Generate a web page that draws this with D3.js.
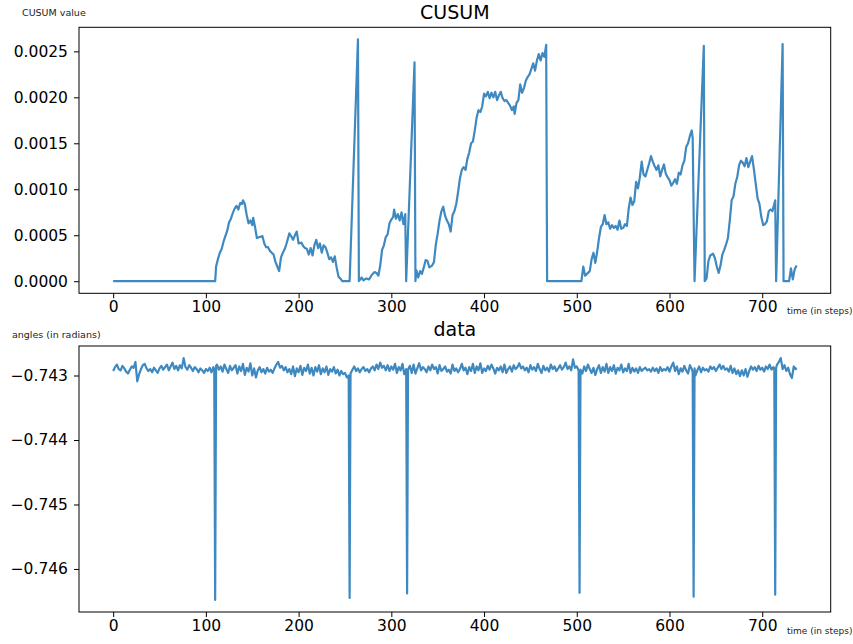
<!DOCTYPE html>
<html><head><meta charset="utf-8">
<script src="https://cdn.jsdelivr.net/npm/d3@7"></script>
<style>
html,body{margin:0;padding:0;background:#fff;}
svg{display:block;font-family:"DejaVu Sans",sans-serif;}
</style></head>
<body><svg id="c" width="853" height="644"></svg>
<script>
// ---------- DATA ----------
const xTicks = [0,100,200,300,400,500,600,700];
const cusumTicks = [0.0000,0.0005,0.0010,0.0015,0.0020,0.0025];
const dataTicks = [-0.743,-0.744,-0.745,-0.746];

const cusumSteps = [0,110,111,113,115,117,119,121,123,125,127,129,131,133,135,137,139,140,142,144,146,148,150,151,153,155,158,161,163,165,167,169,171,173,175,177,179,181,183,185,187,190,192,194,196,198,200,203,205,207,209,211,213,215,217,219,221,223,225,227,229,231,233,235,237,239,241,243,245,247,255,264,265,268,270,273,276,279,282,284,286,288,290,292,294,296,298,300,302,303,305,307,309,311,313,315,316,325,326,327,329,331,333,335,337,339,341,344,346,348,350,352,354,356,358,360,362,364,366,368,370,372,374,376,378,380,382,384,386,388,390,392,394,396,398,400,402,404,406,408,410,412,414,416,418,420,422,424,426,428,430,432,433,435,437,439,441,443,445,447,449,451,453,455,457,459,461,463,465,467,468,505,507,509,511,514,516,518,520,522,524,526,528,530,532,534,536,538,540,542,544,546,548,550,552,554,556,558,560,562,564,566,568,570,572,574,576,578,580,582,584,586,588,590,592,594,596,598,600,602,604,606,608,610,612,614,616,618,620,622,624,625,627,637,638,640,642,644,647,649,651,653,655,657,659,661,663,665,667,669,671,673,675,677,679,681,683,685,687,689,691,693,695,697,699,701,703,705,707,709,711,713,714,715,722,723,729,731,733,735,737];
const cusumValues = [0,0,0.00016,0.00024,0.00031,0.00035,0.00043,0.00049,0.00055,0.00064,0.00068,0.00074,0.00079,0.00082,0.00078,0.00085,0.00084,0.00088,0.00084,0.00072,0.00063,0.00066,0.00061,0.00069,0.00059,0.00047,0.00048,0.00049,0.00041,0.00037,0.00037,0.00033,0.00031,0.00029,0.00021,0.00016,0.00011,0.00026,0.00031,0.00035,0.00041,0.00052,0.00049,0.00045,0.00050,0.00054,0.00041,0.00042,0.00038,0.00036,0.00035,0.00029,0.00036,0.00028,0.00039,0.00045,0.00036,0.00041,0.00031,0.00039,0.00037,0.00031,0.00024,0.00026,0.00021,0.00027,0.00015,0.00005,0.00003,0,0,0.00263,0,0.00004,0.00001,0.00003,0.00002,0.00007,0.00010,0.00009,0.00006,0.00017,0.00034,0.00039,0.00048,0.00051,0.00063,0.00067,0.00070,0.00078,0.00068,0.00073,0.00066,0.00075,0.00062,0.00073,0,0.00238,0,0.00012,0.00004,0.00011,0.00008,0.00015,0.00023,0.00022,0.00015,0.00017,0.00021,0.00040,0.00052,0.00066,0.00076,0.00081,0.00071,0.00066,0.00062,0.00054,0.00072,0.00076,0.00084,0.00097,0.00112,0.00121,0.00124,0.00121,0.00133,0.00140,0.00150,0.00152,0.00164,0.00178,0.00186,0.00184,0.00190,0.00204,0.00201,0.00206,0.00199,0.00205,0.00200,0.00206,0.00197,0.00202,0.00206,0.00199,0.00196,0.00197,0.00194,0.00191,0.00186,0.00190,0.00182,0.00194,0.00197,0.00214,0.00205,0.00210,0.00218,0.00222,0.00225,0.00231,0.00237,0.00229,0.00240,0.00247,0.00240,0.00248,0.00244,0.00257,0,0,0.00016,0.00006,0.00008,0.00011,0.00024,0.00031,0.00020,0.00032,0.00047,0.00059,0.00062,0.00072,0.00062,0.00064,0.00057,0.00061,0.00058,0.00060,0.00056,0.00066,0.00057,0.00058,0.00062,0.00060,0.00079,0.00091,0.00083,0.00087,0.00108,0.00101,0.00113,0.00130,0.00116,0.00114,0.00121,0.00128,0.00136,0.00130,0.00125,0.00121,0.00126,0.00114,0.00121,0.00127,0.00117,0.00113,0.00110,0.00104,0.00107,0.00111,0.00106,0.00118,0.00116,0.00126,0.00131,0.00146,0.00150,0.00158,0.00164,0.00156,0,0.00256,0,0.00003,0.00022,0.00028,0.00030,0.00025,0.00016,0.00009,0.00017,0.00029,0.00034,0.00040,0.00047,0.00066,0.00088,0.00092,0.00106,0.00113,0.00126,0.00131,0.00129,0.00125,0.00134,0.00124,0.00130,0.00136,0.00122,0.00106,0.00090,0.00084,0.00070,0.00061,0.00062,0.00065,0.00076,0.00078,0.00076,0.00084,0.00088,0,0.00258,0,0,0.00014,0.00002,0.00013,0.00017];

const dataSteps = [0,2,4,6,8,10,12,14,16,18,20,22,24,26,28,30,32,34,36,38,40,42,44,46,48,50,52,54,56,58,60,62,64,66,68,70,72,74,76,78,80,82,84,86,88,90,92,94,96,98,100,102,104,106,108,109,110,111,112,
114,116,118,120,122,124,126,128,130,132,134,136,138,140,142,144,146,148,150,152,154,156,158,160,162,164,166,168,170,172,174,176,178,180,182,184,186,188,190,192,194,196,198,200,202,204,206,208,210,212,214,216,218,220,222,224,226,228,230,232,234,236,238,240,242,244,246,248,250,252,254,255,256,
258,260,262,264,266,268,270,272,274,276,278,280,282,284,286,288,290,292,294,296,298,300,302,304,306,308,310,312,314,316,317,318,
320,322,324,326,328,330,332,334,336,338,340,342,344,346,348,350,352,354,356,358,360,362,364,366,368,370,372,374,376,378,380,382,384,386,388,390,392,394,396,398,400,402,404,406,408,410,412,414,416,418,420,422,424,426,428,430,432,434,436,438,440,442,444,446,448,450,452,454,456,458,460,462,464,466,468,470,472,474,476,478,480,482,484,486,488,490,492,494,496,498,500,502,503,504,
506,508,510,512,514,516,518,520,522,524,526,528,530,532,534,536,538,540,542,544,546,548,550,552,554,556,558,560,562,564,566,568,570,572,574,576,578,580,582,584,586,588,590,592,594,596,598,600,602,604,606,608,610,612,614,616,618,620,622,624,625,626,627,628,
630,632,634,636,638,640,642,644,646,648,650,652,654,656,658,660,662,664,666,668,670,672,674,676,678,680,682,684,686,688,690,692,694,696,698,700,702,704,706,708,710,712,713,714,715,716,
718,720,722,724,726,728,730,732,734,736,737];
const dataAngles = [-0.74293,-0.74287,-0.74283,-0.74290,-0.74292,-0.74285,-0.74289,-0.74294,-0.74297,-0.74291,
-0.74286,-0.74288,-0.74279,-0.74309,-0.74298,-0.74290,-0.74284,-0.74282,-0.74289,-0.74293,
-0.74290,-0.74295,-0.74288,-0.74292,-0.74296,-0.74289,-0.74285,-0.74291,-0.74287,-0.74283,
-0.74292,-0.74286,-0.74280,-0.74290,-0.74285,-0.74292,-0.74284,-0.74289,-0.74273,-0.74287,
-0.74291,-0.74284,-0.74288,-0.74293,-0.74287,-0.74290,-0.74295,-0.74289,-0.74292,-0.74296,
-0.74290,-0.74293,-0.74288,-0.74295,-0.74287,-0.74290,-0.74648,-0.74285,-0.74283,
-0.74291,-0.74286,-0.74294,-0.74283,-0.74290,-0.74296,-0.74285,-0.74292,-0.74288,-0.74284,
-0.74297,-0.74286,-0.74293,-0.74282,-0.74299,-0.74288,-0.74294,-0.74281,-0.74300,-0.74289,
-0.74303,-0.74292,-0.74287,-0.74295,-0.74290,-0.74297,-0.74288,-0.74294,-0.74291,-0.74296,
-0.74289,-0.74283,-0.74279,-0.74288,-0.74285,-0.74292,-0.74287,-0.74295,-0.74290,-0.74298,
-0.74286,-0.74301,-0.74289,-0.74295,-0.74285,-0.74299,-0.74288,-0.74293,-0.74283,-0.74297,
-0.74288,-0.74300,-0.74287,-0.74294,-0.74284,-0.74298,-0.74289,-0.74295,-0.74286,-0.74299,
-0.74290,-0.74294,-0.74287,-0.74297,-0.74291,-0.74300,-0.74293,-0.74298,-0.74296,-0.74303,
-0.74300,-0.74645,-0.74297,
-0.74291,-0.74286,-0.74293,-0.74289,-0.74295,-0.74290,-0.74287,-0.74293,-0.74290,-0.74295,
-0.74289,-0.74286,-0.74292,-0.74283,-0.74290,-0.74280,-0.74288,-0.74285,-0.74292,-0.74284,
-0.74293,-0.74286,-0.74291,-0.74282,-0.74296,-0.74287,-0.74292,-0.74282,-0.74298,
-0.74290,-0.74638,-0.74291,
-0.74285,-0.74296,-0.74283,-0.74297,-0.74289,-0.74281,-0.74292,-0.74287,-0.74290,-0.74295,
-0.74286,-0.74292,-0.74283,-0.74290,-0.74287,-0.74297,-0.74284,-0.74293,-0.74290,-0.74286,
-0.74294,-0.74291,-0.74297,-0.74283,-0.74293,-0.74289,-0.74295,-0.74290,-0.74282,-0.74292,
-0.74288,-0.74298,-0.74287,-0.74293,-0.74282,-0.74296,-0.74286,-0.74292,-0.74281,-0.74296,
-0.74289,-0.74293,-0.74285,-0.74291,-0.74283,-0.74289,-0.74297,-0.74288,-0.74292,-0.74286,
-0.74295,-0.74283,-0.74296,-0.74290,-0.74286,-0.74294,-0.74284,-0.74290,-0.74287,-0.74281,
-0.74289,-0.74286,-0.74292,-0.74288,-0.74295,-0.74284,-0.74291,-0.74287,-0.74293,-0.74282,
-0.74290,-0.74296,-0.74285,-0.74292,-0.74288,-0.74294,-0.74283,-0.74290,-0.74286,-0.74293,
-0.74289,-0.74284,-0.74291,-0.74287,-0.74280,-0.74290,-0.74286,-0.74292,-0.74275,-0.74288,
-0.74286,-0.74292,-0.74637,-0.74291,
-0.74297,-0.74286,-0.74293,-0.74283,-0.74290,-0.74296,-0.74288,-0.74299,-0.74290,-0.74284,
-0.74296,-0.74287,-0.74294,-0.74282,-0.74296,-0.74287,-0.74293,-0.74284,-0.74297,-0.74288,
-0.74292,-0.74283,-0.74295,-0.74289,-0.74293,-0.74282,-0.74296,-0.74288,-0.74294,-0.74289,
-0.74296,-0.74287,-0.74293,-0.74290,-0.74288,-0.74292,-0.74290,-0.74294,-0.74288,-0.74293,
-0.74289,-0.74296,-0.74287,-0.74293,-0.74290,-0.74292,-0.74287,-0.74294,-0.74286,-0.74280,
-0.74293,-0.74286,-0.74298,-0.74289,-0.74294,-0.74285,-0.74292,-0.74297,-0.74284,
-0.74290,-0.74295,-0.74643,-0.74289,-0.74300,
-0.74292,-0.74286,-0.74295,-0.74288,-0.74292,-0.74290,-0.74294,-0.74286,-0.74290,-0.74287,
-0.74293,-0.74288,-0.74283,-0.74290,-0.74285,-0.74291,-0.74289,-0.74294,-0.74285,-0.74296,
-0.74289,-0.74298,-0.74292,-0.74301,-0.74292,-0.74300,-0.74290,-0.74302,-0.74293,-0.74286,
-0.74291,-0.74287,-0.74293,-0.74285,-0.74291,-0.74288,-0.74294,-0.74286,-0.74290,-0.74283,
-0.74291,-0.74287,-0.74289,-0.74640,-0.74288,-0.74283,
-0.74279,-0.74273,-0.74290,-0.74284,-0.74293,-0.74288,-0.74298,-0.74304,-0.74286,-0.74290,
-0.74288];

// ---------- DRAW ----------
const svg = d3.select("#c");
const lineColor = "#3f89c1";
const L = 79, R = 830.7;

function pad(ext){ const r = ext[1]-ext[0]; return [ext[0]-0.05*r, ext[1]+0.05*r]; }

function panel(opts){
  const {top,bottom,steps,values,ticks,fmt,title,titleY,ylab,ylabY,xlabY} = opts;
  const x = d3.scaleLinear().domain(pad(d3.extent(steps))).range([L,R]);
  const y = d3.scaleLinear().domain(pad(d3.extent(values))).range([bottom,top]);
  const g = svg.append("g");
  const pts = steps.map((s,i)=>[s,values[i]]);
  g.append("path").datum(pts)
    .attr("fill","none").attr("stroke",lineColor).attr("stroke-width",2.2)
    .attr("stroke-linejoin","round")
    .attr("d", d3.line().x(d=>x(d[0])).y(d=>y(d[1])));
  g.append("rect").attr("x",L).attr("y",top).attr("width",R-L).attr("height",bottom-top)
    .attr("fill","none").attr("stroke","#000").attr("stroke-width",1);
  const xa = g.append("g").attr("transform",`translate(0,${bottom})`)
    .call(d3.axisBottom(x).tickValues(xTicks).tickFormat(d3.format("d")).tickSize(5).tickPadding(3));
  const ya = g.append("g").attr("transform",`translate(${L},0)`)
    .call(d3.axisLeft(y).tickValues(ticks).tickFormat(fmt).tickSize(5).tickPadding(6));
  [xa,ya].forEach(a=>{
    a.select(".domain").remove();
    a.selectAll("text").attr("font-family","DejaVu Sans").attr("font-size","15.5px").attr("fill","#000");
    a.selectAll("line").attr("stroke","#000");
  });
  g.append("text").attr("x",(L+R)/2).attr("y",titleY).attr("text-anchor","middle")
    .attr("font-size","19px").attr("fill","#000").text(title);
  g.append("text").attr("x",opts.ylabX).attr("y",ylabY)
    .attr("font-size","9.5px").attr("fill","#222").text(ylab);
  g.append("text").attr("x",787).attr("y",xlabY)
    .attr("font-size","9px").attr("fill","#222").text("time (in steps)");
}

panel({top:27.3,bottom:293.3,steps:cusumSteps,values:cusumValues,ticks:cusumTicks,
  fmt:d3.format(".4f"),title:"CUSUM",titleY:18.5,ylab:"CUSUM value",ylabX:22,ylabY:15.5,xlabY:314});
panel({top:346,bottom:612,steps:dataSteps,values:dataAngles,ticks:dataTicks,
  fmt:d3.format(".3f"),title:"data",titleY:336,ylab:"angles (in radians)",ylabX:12,ylabY:338,xlabY:634});
</script></body></html>
